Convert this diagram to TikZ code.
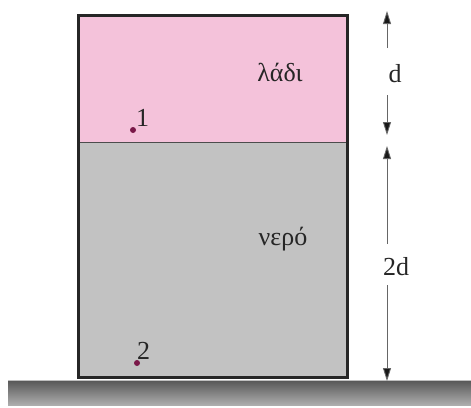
\documentclass[tikz,border=0pt]{standalone}
\usepackage{fontspec}
\setmainfont{Liberation Serif}
\usetikzlibrary{arrows.meta}
\definecolor{oil}{HTML}{F4C2DA}
\definecolor{water}{HTML}{C2C2C2}
\definecolor{dotc}{HTML}{7A1848}
\begin{document}
\begin{tikzpicture}[x=1pt,y=-1pt,
  lbl/.style={font=\fontsize{26}{30}\selectfont, text=black!85, inner sep=1pt},
  ptdot/.style={circle, fill=dotc, inner sep=0pt, minimum size=6pt},
  dim/.style={draw=black!60, line width=0.9pt, -{Triangle[length=13pt,width=8pt,fill=black!90]}}]
\useasboundingbox (0,0) rectangle (471,407);
% ground
\shade[top color=black!65, bottom color=black!32] (8,381) rectangle (471,405);
\draw[black!25, line width=1pt] (8,380.5) -- (471,380.5);
% liquids
\fill[oil] (78,15) rectangle (347,142);
\fill[water] (78,142) rectangle (347,377);
\draw[black!70, line width=0.8pt] (78,142) -- (347,142);
\draw[black!85, line width=3pt] (78,15) rectangle (347,377);
% labels
\node[lbl] (oil) at (280,72) {λάδι};
\node[lbl] (water) at (283,239) {νερό};
\node[ptdot] (p1) at (133,130) {};
\node[lbl, anchor=south west, inner sep=0pt] (l1) at (136,127) {1};
\node[ptdot] (p2) at (137,363) {};
\node[lbl, anchor=south west, inner sep=0pt] (l2) at (137,360) {2};
% dimension
\node[lbl] (d) at (395,74) {d};
\node[lbl] (dd) at (396,267) {2d};
\coordinate (t1) at (387,11);
\coordinate (b1) at (387,135);
\coordinate (t2) at (387,146);
\coordinate (b2) at (387,381);
\draw[dim] (387,48) -- (t1);
\draw[dim] (387,95) -- (b1);
\draw[dim] (387,244) -- (t2);
\draw[dim] (387,285) -- (b2);
\end{tikzpicture}
\end{document}
